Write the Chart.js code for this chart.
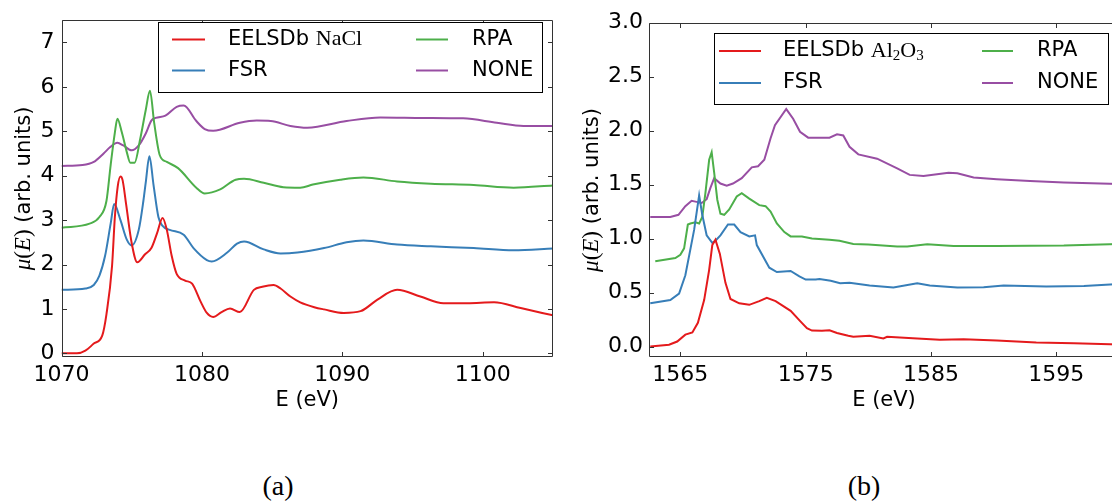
<!DOCTYPE html>
<html>
<head>
<meta charset="utf-8">
<script src="https://cdn.jsdelivr.net/npm/chart.js@4.4.0/dist/chart.umd.min.js"></script>
<style>
  html, body { margin: 0; padding: 0; width: 1112px; height: 501px; overflow: hidden; background: #fff; }
  canvas { position: absolute; top: 0; }
  #chartA { left: 0; }
  #chartB { left: 570px; }
  .caption { position: absolute; top: 470px; width: 60px; text-align: center; line-height: 32px;
             font-family: 'Liberation Serif', serif; font-size: 28px; color: #000; }
</style>
</head>
<body>
<canvas id="chartA" width="570" height="420"></canvas>
<canvas id="chartB" width="560" height="420"></canvas>
<div class="caption" style="left:248px">(a)</div>
<div class="caption" style="left:834px">(b)</div>
<script>
// ---- NaCl (Na K-edge) spectra ----
const naclLabels = ['EELSDb NaCl', 'FSR', 'RPA', 'NONE'];
const naclXTicks = [1070, 1080, 1090, 1100];
const naclYTicks = [0, 1, 2, 3, 4, 5, 6, 7];

const naclEelsE  = [1070.0, 1071.1, 1071.7, 1072.3, 1072.9, 1073.2, 1073.6, 1073.8, 1074.0, 1074.2, 1074.35, 1074.6, 1075.0, 1075.4, 1075.95, 1076.4, 1076.8, 1077.2, 1077.5, 1077.85, 1078.2, 1078.8, 1079.3, 1079.9, 1080.35, 1080.8, 1081.4, 1082.0, 1082.7, 1083.7, 1084.3, 1085.1, 1085.6, 1086.3, 1087.0, 1088.0, 1088.7, 1090.1, 1091.3, 1092.5, 1093.9, 1095.55, 1097.2, 1098.9, 1100.8, 1102.7, 1105.0];
const naclEelsMu = [0.00, 0.00, 0.06, 0.22, 0.40, 0.88, 1.97, 3.07, 3.75, 3.98, 3.90, 3.36, 2.48, 2.05, 2.23, 2.37, 2.70, 3.05, 2.78, 2.19, 1.79, 1.64, 1.57, 1.17, 0.91, 0.82, 0.93, 1.01, 0.93, 1.43, 1.50, 1.54, 1.46, 1.28, 1.15, 1.04, 0.99, 0.91, 0.95, 1.21, 1.43, 1.28, 1.13, 1.13, 1.15, 1.02, 0.855];

const naclFsrE  = [1070.0, 1071.7, 1072.3, 1072.7, 1073.1, 1073.5, 1073.75, 1074.2, 1074.65, 1075.0, 1075.5, 1075.83, 1076.0, 1076.26, 1076.55, 1076.9, 1077.2, 1077.7, 1078.7, 1079.4, 1080.35, 1080.7, 1081.8, 1082.5, 1083.0, 1084.4, 1085.6, 1086.8, 1088.7, 1090.3, 1091.5, 1093.9, 1096.3, 1099.35, 1102.2, 1105.0];
const naclFsrMu = [1.43, 1.46, 1.54, 1.75, 2.19, 2.92, 3.36, 3.00, 2.56, 2.43, 2.78, 3.43, 3.85, 4.44, 3.80, 3.07, 2.87, 2.78, 2.67, 2.37, 2.10, 2.07, 2.27, 2.47, 2.52, 2.34, 2.25, 2.27, 2.37, 2.50, 2.54, 2.45, 2.41, 2.37, 2.32, 2.36];

const naclRpaE  = [1070.0, 1072.0, 1072.7, 1073.2, 1073.5, 1073.8, 1073.98, 1074.3, 1074.65, 1074.9, 1075.2, 1075.6, 1076.0, 1076.3, 1076.6, 1077.0, 1077.5, 1078.3, 1079.6, 1080.2, 1081.3, 1082.4, 1083.0, 1084.4, 1085.8, 1087.0, 1087.9, 1089.85, 1091.5, 1093.9, 1096.3, 1099.35, 1102.2, 1105.0];
const naclRpaMu = [2.83, 2.92, 3.07, 3.43, 4.24, 4.97, 5.28, 4.97, 4.53, 4.29, 4.29, 4.82, 5.48, 5.91, 5.19, 4.46, 4.31, 4.17, 3.73, 3.60, 3.69, 3.91, 3.93, 3.84, 3.74, 3.73, 3.80, 3.91, 3.96, 3.87, 3.82, 3.79, 3.73, 3.78];

const naclNoneE  = [1070.0, 1071.5, 1072.3, 1073.0, 1073.45, 1073.98, 1074.4, 1075.0, 1075.5, 1076.0, 1076.4, 1076.7, 1077.4, 1078.2, 1078.7, 1079.6, 1080.2, 1080.8, 1082.7, 1083.9, 1084.9, 1086.3, 1087.5, 1090.3, 1092.7, 1095.8, 1098.6, 1101.0, 1102.9, 1105.0];
const naclNoneMu = [4.22, 4.24, 4.31, 4.50, 4.64, 4.74, 4.68, 4.57, 4.68, 4.95, 5.24, 5.30, 5.35, 5.55, 5.58, 5.23, 5.05, 5.01, 5.19, 5.24, 5.23, 5.12, 5.08, 5.23, 5.31, 5.30, 5.29, 5.19, 5.12, 5.12];

// ---- Al2O3 (Al K-edge) spectra ----
const aloLabels = ['EELSDb Al2O3', 'FSR', 'RPA', 'NONE'];
const aloXTicks = [1565, 1575, 1585, 1595];
const aloYTicks = [0, 0.5, 1.0, 1.5, 2.0, 2.5, 3.0];

const aloEelsE  = [1562.6, 1564.1, 1564.75, 1565.4, 1565.96, 1566.4, 1566.9, 1567.3, 1567.55, 1567.8, 1568.15, 1568.6, 1569.0, 1569.7, 1570.5, 1571.3, 1571.9, 1572.6, 1573.8, 1574.6, 1575.1, 1575.5, 1576.3, 1576.9, 1577.5, 1578.4, 1578.8, 1580.1, 1581.2, 1581.5, 1583.9, 1585.7, 1587.6, 1590.25, 1593.4, 1596.4, 1600.0];
const aloEelsMu = [0.00, 0.016, 0.046, 0.11, 0.13, 0.22, 0.43, 0.71, 0.94, 0.99, 0.86, 0.59, 0.44, 0.40, 0.386, 0.42, 0.45, 0.42, 0.33, 0.23, 0.17, 0.148, 0.145, 0.15, 0.125, 0.10, 0.09, 0.10, 0.075, 0.09, 0.075, 0.062, 0.068, 0.056, 0.037, 0.031, 0.018];

const aloFsrE  = [1562.6, 1564.2, 1564.9, 1565.4, 1565.8, 1566.1, 1566.5, 1566.75, 1567.1, 1567.55, 1567.8, 1568.2, 1568.8, 1569.3, 1569.8, 1570.5, 1570.96, 1571.1, 1572.1, 1572.7, 1573.8, 1574.5, 1575.0, 1575.8, 1576.1, 1577.0, 1577.75, 1578.5, 1580.1, 1582.0, 1583.9, 1584.9, 1587.1, 1589.2, 1590.8, 1594.2, 1597.2, 1600.0];
const aloFsrMu = [0.40, 0.43, 0.49, 0.66, 0.90, 1.08, 1.40, 1.22, 1.03, 0.96, 0.98, 1.03, 1.13, 1.13, 1.06, 1.02, 1.03, 0.94, 0.73, 0.69, 0.70, 0.65, 0.62, 0.62, 0.625, 0.61, 0.587, 0.59, 0.565, 0.547, 0.587, 0.565, 0.547, 0.55, 0.565, 0.556, 0.56, 0.58];

const aloRpaE  = [1563.0, 1564.6, 1565.0, 1565.3, 1565.6, 1565.8, 1566.2, 1566.5, 1566.75, 1567.0, 1567.3, 1567.5, 1567.7, 1567.95, 1568.2, 1568.5, 1568.9, 1569.5, 1569.9, 1570.5, 1571.3, 1571.8, 1572.2, 1572.7, 1573.3, 1573.8, 1574.7, 1575.5, 1576.9, 1577.7, 1578.8, 1580.0, 1582.3, 1583.1, 1584.7, 1586.8, 1590.25, 1595.6, 1600.0];
const aloRpaMu = [0.79, 0.82, 0.85, 0.91, 1.13, 1.14, 1.15, 1.14, 1.20, 1.42, 1.73, 1.80, 1.61, 1.36, 1.23, 1.22, 1.27, 1.39, 1.42, 1.37, 1.31, 1.30, 1.25, 1.14, 1.06, 1.02, 1.02, 1.00, 0.99, 0.98, 0.95, 0.945, 0.926, 0.926, 0.948, 0.932, 0.932, 0.935, 0.95];

const aloNoneE  = [1562.6, 1564.2, 1564.85, 1565.4, 1565.9, 1566.3, 1566.7, 1567.1, 1567.4, 1567.7, 1568.2, 1568.7, 1569.2, 1569.9, 1570.7, 1571.2, 1571.7, 1572.2, 1572.55, 1573.45, 1574.0, 1574.55, 1575.2, 1576.9, 1577.5, 1578.0, 1578.5, 1579.2, 1580.7, 1582.3, 1583.3, 1584.4, 1586.4, 1587.1, 1588.4, 1590.25, 1592.9, 1595.6, 1600.0];
const aloNoneMu = [1.20, 1.20, 1.22, 1.30, 1.35, 1.34, 1.33, 1.365, 1.47, 1.56, 1.51, 1.49, 1.51, 1.56, 1.66, 1.67, 1.73, 1.93, 2.05, 2.20, 2.11, 1.99, 1.935, 1.935, 1.966, 1.955, 1.85, 1.78, 1.74, 1.65, 1.59, 1.58, 1.61, 1.605, 1.565, 1.55, 1.534, 1.52, 1.505];

const seriesColors = ['#e41a1c', '#377eb8', '#4daf4a', '#984ea3'];

const SANS = "'DejaVu Sans', sans-serif";
const SERIF = "'Liberation Serif', 'DejaVu Serif', serif";

function zip(xs, ys) {
  return xs.map((x, i) => ({ x: x, y: ys[i] }));
}

// draws a list of text runs one after another, returns end x
function drawRuns(ctx, runs, x, y) {
  let cx = x;
  runs.forEach(r => {
    ctx.font = r.font;
    ctx.fillText(r.text, cx, y + (r.dy || 0));
    cx += ctx.measureText(r.text).width;
  });
  return cx;
}

function runsWidth(ctx, runs) {
  let w = 0;
  runs.forEach(r => { ctx.font = r.font; w += ctx.measureText(r.text).width; });
  return w;
}

// "EELSDb Al2O3" -> sans word + serif formula with subscript digits
function labelRuns(label, size) {
  const sp = label.indexOf(' ');
  if (sp < 0) return [{ text: label, font: size + 'px ' + SANS }];
  const runs = [{ text: label.slice(0, sp + 1), font: size + 'px ' + SANS }];
  const parts = label.slice(sp + 1).match(/\d+|\D+/g);
  parts.forEach(p => {
    if (/^\d+$/.test(p)) runs.push({ text: p, font: Math.round(size * 0.7) + 'px ' + SERIF, dy: 5 });
    else runs.push({ text: p, font: (size + 1) + 'px ' + SERIF });
  });
  return runs;
}

// box around the plot with inward ticks on every side
const framePlugin = {
  id: 'frame',
  afterDatasetsDraw(chart) {
    const { ctx, chartArea: a, scales } = chart;
    const len = 4.5;
    const L = Math.round(a.left) + 0.5, R = Math.round(a.right) - 0.5;
    const T = Math.round(a.top) + 0.5, B = Math.round(a.bottom) - 0.5;
    ctx.save();
    ctx.strokeStyle = '#333';
    ctx.lineWidth = 1;
    ctx.beginPath();
    ctx.rect(L, T, R - L, B - T);
    scales.x.ticks.forEach(t => {
      const px = Math.round(scales.x.getPixelForValue(t.value)) + 0.5;
      ctx.moveTo(px, B); ctx.lineTo(px, B - len);
      ctx.moveTo(px, T); ctx.lineTo(px, T + len);
    });
    scales.y.ticks.forEach(t => {
      const py = Math.round(scales.y.getPixelForValue(t.value)) + 0.5;
      ctx.moveTo(L, py); ctx.lineTo(L + len, py);
      ctx.moveTo(R, py); ctx.lineTo(R - len, py);
    });
    ctx.stroke();
    ctx.restore();
  }
};

// two-column legend inside a framed box
const boxLegendPlugin = {
  id: 'boxLegend',
  afterDraw(chart, args, opts) {
    const ctx = chart.ctx;
    const [bx, by, bw, bh] = opts.box;
    ctx.save();
    ctx.fillStyle = '#fff';
    ctx.fillRect(bx, by, bw, bh);
    ctx.strokeStyle = '#000';
    ctx.lineWidth = 1;
    ctx.strokeRect(Math.round(bx) + 0.5, Math.round(by) + 0.5, Math.round(bw), Math.round(bh));
    ctx.textBaseline = 'middle';
    ctx.textAlign = 'left';
    chart.data.datasets.forEach((ds, i) => {
      const col = opts.cols[Math.floor(i / 2)];
      const y = opts.rows[i % 2];
      ctx.strokeStyle = ds.borderColor;
      ctx.lineWidth = 2;
      ctx.beginPath();
      ctx.moveTo(col[0], y);
      ctx.lineTo(col[1], y);
      ctx.stroke();
      ctx.fillStyle = '#000';
      drawRuns(ctx, labelRuns(ds.label, 21), col[2], y);
    });
    ctx.restore();
  }
};

// rotated y title: mu(E) in math italic, then units
const muTitlePlugin = {
  id: 'muTitle',
  afterDraw(chart, args, opts) {
    const ctx = chart.ctx;
    const a = chart.chartArea;
    const it = 'italic 23px ' + SERIF, up = '23px ' + SERIF;
    const runs = [
      { text: 'μ', font: it }, { text: '(', font: up }, { text: 'E', font: it }, { text: ')', font: up },
      { text: ' (arb. units)', font: '21px ' + SANS }
    ];
    ctx.save();
    ctx.translate(opts.x, (a.top + a.bottom) / 2);
    ctx.rotate(-Math.PI / 2);
    ctx.fillStyle = '#000';
    ctx.textBaseline = 'alphabetic';
    const w = runsWidth(ctx, runs);
    drawRuns(ctx, runs, -w / 2, 0);
    ctx.restore();
  }
};

function makeChart(canvasId, cfg) {
  const datasets = cfg.series.map((s, i) => ({
    label: cfg.labels[i],
    data: zip(s[0], s[1]),
    borderColor: seriesColors[i],
    backgroundColor: seriesColors[i],
    borderWidth: 2,
    pointRadius: 0,
    fill: false,
    tension: 0,
    cubicInterpolationMode: cfg.smooth ? 'monotone' : 'default'
  }));

  return new Chart(document.getElementById(canvasId).getContext('2d'), {
    type: 'line',
    data: { datasets: datasets },
    options: {
      responsive: false,
      animation: false,
      layout: { padding: cfg.padding },
      plugins: {
        legend: { display: false },
        tooltip: { enabled: false },
        boxLegend: cfg.legend,
        muTitle: { x: cfg.titleX }
      },
      scales: {
        x: {
          type: 'linear',
          min: cfg.xRange[0],
          max: cfg.xRange[1],
          afterBuildTicks: scale => { scale.ticks = cfg.xTicks.map(v => ({ value: v })); },
          afterFit: scale => { scale.height = cfg.xAxisH; },
          grid: { display: false, drawTicks: false },
          border: { display: false },
          ticks: {
            autoSkip: false, maxRotation: 0, padding: 5,
            color: '#000', font: { family: SANS, size: 22 },
            callback: v => String(v)
          },
          title: {
            display: true, text: 'E (eV)', color: '#000',
            font: { family: SANS, size: 21 }, padding: { top: 0, bottom: 7 }
          }
        },
        y: {
          min: cfg.yRange[0],
          max: cfg.yRange[1],
          afterBuildTicks: scale => { scale.ticks = cfg.yTicks.map(v => ({ value: v })); },
          afterFit: scale => { scale.width = cfg.yAxisW; },
          grid: { display: false, drawTicks: false },
          border: { display: false },
          ticks: {
            autoSkip: false, padding: cfg.yPad,
            color: '#000', font: { family: SANS, size: 22 },
            callback: cfg.yFormat
          }
        }
      }
    },
    plugins: [framePlugin, boxLegendPlugin, muTitlePlugin]
  });
}

makeChart('chartA', {
  labels: naclLabels,
  series: [[naclEelsE, naclEelsMu], [naclFsrE, naclFsrMu], [naclRpaE, naclRpaMu], [naclNoneE, naclNoneMu]],
  smooth: true,
  xRange: [1070, 1105], yRange: [-0.075, 7.5],
  xTicks: naclXTicks, yTicks: naclYTicks,
  yFormat: v => String(v),
  padding: { left: 0, top: 11, right: 17, bottom: 0 },
  yAxisW: 61.5, xAxisH: 63.3, yPad: 7,
  titleX: 30,
  legend: { box: [158, 22, 384, 70], rows: [39.5, 70.5], cols: [[172, 205, 228], [416, 448, 472]] }
});

makeChart('chartB', {
  labels: aloLabels,
  series: [[aloEelsE, aloEelsMu], [aloFsrE, aloFsrMu], [aloRpaE, aloRpaMu], [aloNoneE, aloNoneMu]],
  smooth: false,
  xRange: [1562.5, 1600], yRange: [-0.1, 3.0],
  xTicks: aloXTicks, yTicks: aloYTicks,
  yFormat: v => v.toFixed(1),
  padding: { left: 0, top: 22.7, right: 11, bottom: 0 },
  yAxisW: 79, xAxisH: 62.7, yPad: 6,
  titleX: 28,
  legend: { box: [144, 33.3, 394, 71], rows: [51, 83], cols: [[149, 191, 213], [412, 443, 467]] }
});
</script>
</body>
</html>
